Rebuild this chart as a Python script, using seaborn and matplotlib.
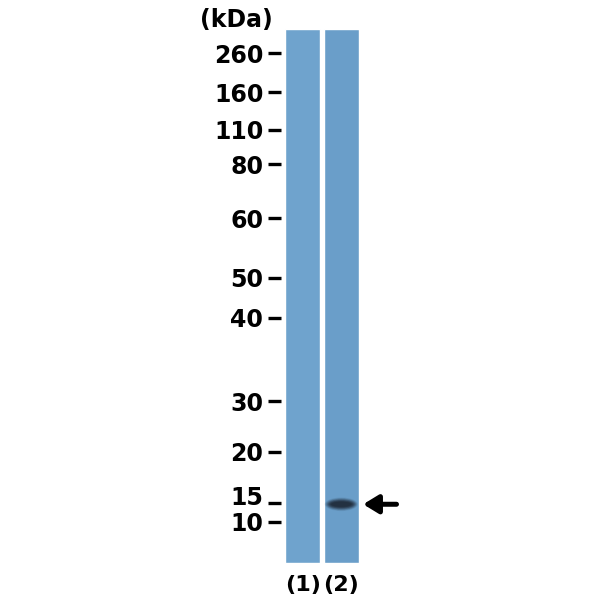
import numpy as np
import pandas as pd
import matplotlib
matplotlib.use("Agg")
import matplotlib.pyplot as plt
import matplotlib.transforms as mtransforms
from matplotlib.patches import Ellipse
import seaborn as sns

# marker ladder (kDa) and relative migration (0 = top of gel, 1 = bottom)
MARKER_KDA = [260, 160, 110, 80, 60, 50, 40, 30, 20, 15, 10]
MARKER_RF = [0.045, 0.118, 0.189, 0.253, 0.354, 0.466, 0.541, 0.697, 0.792, 0.888, 0.923]

LANES = ["(1)", "(2)"]
LANE_LENGTH = [1.0, 1.0]
LANE_COLORS = ["#6fa3cd", "#6a9ec9"]

# detected band: lane index, relative migration, intensity
BAND_LANE = [1]
BAND_RF = [0.890]
BAND_INTENSITY = [1.0]

sns.set_theme(style="white")
plt.rcParams["font.family"] = ["DejaVu Sans"]
plt.rcParams["font.weight"] = "bold"

df = pd.DataFrame({"lane": LANES, "length": LANE_LENGTH})

fig = plt.figure(figsize=(6, 6), dpi=100)
ax = fig.add_axes([285 / 600, 1 - 563 / 600, 74 / 600, 534 / 600])

sns.barplot(data=df, x="lane", y="length", hue="lane", palette=LANE_COLORS,
            width=0.92, legend=False, ax=ax, saturation=1)

# bands drawn as soft stacked ellipses
for lane, rf, inten in zip(BAND_LANE, BAND_RF, BAND_INTENSITY):
    for k, a in zip(np.linspace(1.6, 0.6, 8), np.linspace(0.08, 0.4, 8)):
        ax.add_patch(Ellipse((lane, rf), 0.68 * k ** 0.5, 0.016 * k,
                             facecolor="#1c2633", edgecolor="none", alpha=a * inten))

ax.set_xlim(-0.46, 1.46)
ax.set_ylim(1, 0)
ax.set_xlabel("")
ax.set_ylabel("")
for s in ax.spines.values():
    s.set_visible(False)

ax.set_yticks(MARKER_RF)
ax.set_yticklabels([str(m) for m in MARKER_KDA])
ax.spines["left"].set_position(("outward", 3))
ax.tick_params(axis="y", left=True, length=9.6, width=2.4, color="black",
               pad=3, labelsize=17, direction="out")
ax.tick_params(axis="x", bottom=False, pad=3, labelsize=16)
for t in ax.get_yticklabels() + ax.get_xticklabels():
    t.set_fontweight("bold")
    t.set_color("black")

# the 15 label sits a little above its tick so it clears the 10 label
shift_up = mtransforms.ScaledTranslation(0, 8 / 100, fig.dpi_scale_trans)
for t in ax.get_yticklabels():
    if t.get_text() == "15":
        t.set_transform(t.get_transform() + shift_up)

fig.text(236 / 600, 1 - 20 / 600, "(kDa)", ha="center", va="center",
         fontsize=17, fontweight="bold", color="black")

# arrow pointing at the band in lane 2
ax.annotate("", xy=(1.46, BAND_RF[0]), xycoords="data",
            xytext=(27, 0), textcoords="offset points",
            arrowprops=dict(arrowstyle="-|>,head_length=0.9,head_width=0.55",
                            lw=3.6, color="black", mutation_scale=10,
                            shrinkA=0, shrinkB=3))

fig.savefig("out.png", dpi=100, facecolor="white")
